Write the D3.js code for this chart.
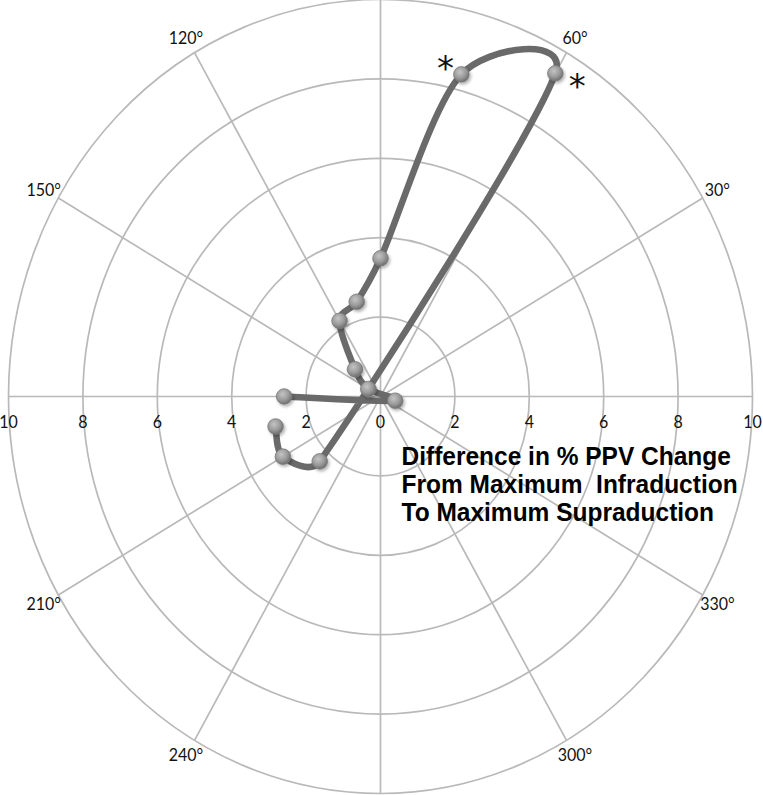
<!DOCTYPE html>
<html>
<head>
<meta charset="utf-8">
<script src="https://cdn.jsdelivr.net/npm/d3@7"></script>
<style>
  html, body { margin: 0; padding: 0; background: #fff; }
  svg { display: block; }
</style>
</head>
<body>
<svg id="chart" width="763" height="795"></svg>
<script>
// series, in the order the line is drawn (angle in degrees, radius value)
var angles = [195, 210, 225, 60, 75, 90, 105, 120, 135, 150, 165, 180];
var values = [2.92, 3.03, 2.31, 9.4, 8.4, 3.48, 2.47, 2.2, 0.97, 0.38, -0.41, 2.59];
// points flagged with an asterisk
var starred = [60, 75];
// grid
var ringValues = [2, 4, 6, 8, 10];
var spokeAngles = [0, 30, 60, 90, 120, 150, 180, 210, 240, 270, 300, 330];
var angleLabels = ["30°", "60°", "120°", "150°", "210°", "240°", "300°", "330°"];
var titleLines = ["Difference in % PPV Change", "From Maximum  Infraduction", "To Maximum Supraduction"];

var svg = d3.select("#chart");
var cx = 380.5, cy = 396.5;
var stretch = 397 / 372;   // the picture is a bit taller than wide

var rx = d3.scaleLinear().domain([0, 10]).range([0, 372]);
var ry = d3.scaleLinear().domain([0, 10]).range([0, 397]);

function px(r, a) { return cx + rx(r) * Math.cos(a * Math.PI / 180); }
function py(r, a) { return cy - ry(r) * Math.sin(a * Math.PI / 180); }

var defs = svg.append("defs");
var grad = defs.append("radialGradient").attr("id", "ball")
    .attr("cx", "40%").attr("cy", "35%").attr("r", "65%");
grad.append("stop").attr("offset", "0%").attr("stop-color", "#c4c4c4");
grad.append("stop").attr("offset", "60%").attr("stop-color", "#9a9a9a");
grad.append("stop").attr("offset", "100%").attr("stop-color", "#6f6f6f");
var shadow = defs.append("filter").attr("id", "shadow")
    .attr("x", "-50%").attr("y", "-50%").attr("width", "200%").attr("height", "200%");
shadow.append("feDropShadow").attr("dx", 1.5).attr("dy", 2).attr("stdDeviation", 1.5)
    .attr("flood-color", "#000").attr("flood-opacity", 0.3);

// grid rings and spokes
var grid = svg.append("g").attr("class", "grid")
    .attr("fill", "none").attr("stroke", "#b9b9b9").attr("stroke-width", 1.7);

grid.selectAll("ellipse").data(ringValues).enter().append("ellipse")
    .attr("cx", cx).attr("cy", cy)
    .attr("rx", function (d) { return rx(d); })
    .attr("ry", function (d) { return ry(d); });

grid.selectAll("line").data(spokeAngles).enter().append("line")
    .attr("x1", cx).attr("y1", cy)
    .attr("x2", function (d) { return px(10, d); })
    .attr("y2", function (d) { return py(10, d); });

// angle labels just outside the outer ring
svg.append("g").selectAll("text")
    .data(angleLabels).enter().append("text")
    .attr("transform", function (d) {
        var a = parseFloat(d) * Math.PI / 180;
        var x = px(10, parseFloat(d)) + 17 * Math.cos(a);
        var y = py(10, parseFloat(d)) - 17 * Math.sin(a);
        return "translate(" + x + "," + y + ") scale(1," + stretch + ")";
    })
    .attr("text-anchor", "middle").attr("dy", "0.36em")
    .style("font-family", "Lato, 'Open Sans', sans-serif").style("font-size", "16px")
    .style("fill", "#111")
    .text(function (d) { return d; });

// radial value labels along the horizontal axis, both sides
var ticks = rx.ticks(5);
var tickData = [];
ticks.forEach(function (t) {
    tickData.push({ v: t, x: cx - rx(t) });
    if (t > 0) tickData.push({ v: t, x: cx + rx(t) });
});
svg.append("g").selectAll("text")
    .data(tickData).enter().append("text")
    .attr("transform", function (d) { return "translate(" + d.x + "," + (cy + 25) + ") scale(1," + stretch + ")"; })
    .attr("text-anchor", "middle").attr("dy", "0.36em")
    .style("font-family", "Lato, 'Open Sans', sans-serif").style("font-size", "16px")
    .style("fill", "#111")
    .text(function (d) { return d.v; });

// the series
var pts = angles.map(function (a, i) { return { a: a, r: values[i], x: px(values[i], a), y: py(values[i], a) }; });

// spreadsheet-style smoothing: bezier handles at 1/6 of the neighbour span,
// kept under ~0.4 of the segment so short hops don't overshoot
function smoothPath(p) {
    var path = d3.path();
    path.moveTo(p[0].x, p[0].y);
    function handle(a, b, seg) {
        var dx = (b.x - a.x) / 6, dy = (b.y - a.y) / 6;
        var len = Math.sqrt(dx * dx + dy * dy), lim = seg * 0.42;
        if (len > lim) { dx *= lim / len; dy *= lim / len; }
        return [dx, dy];
    }
    for (var i = 0; i < p.length - 1; i++) {
        var p0 = p[i - 1] || p[i], p1 = p[i], p2 = p[i + 1], p3 = p[i + 2] || p[i + 1];
        var seg = Math.sqrt((p2.x - p1.x) * (p2.x - p1.x) + (p2.y - p1.y) * (p2.y - p1.y));
        var t1 = handle(p0, p2, seg), t2 = handle(p1, p3, seg);
        path.bezierCurveTo(p1.x + t1[0], p1.y + t1[1], p2.x - t2[0], p2.y - t2[1], p2.x, p2.y);
    }
    return path.toString();
}

svg.append("path")
    .datum(pts)
    .attr("d", smoothPath)
    .attr("fill", "none")
    .attr("stroke", "#6a6a6a")
    .attr("stroke-width", 6.5)
    .attr("stroke-linejoin", "round")
    .attr("stroke-linecap", "round");

svg.append("g").selectAll("circle")
    .data(pts).enter().append("circle")
    .attr("cx", function (d) { return d.x; })
    .attr("cy", function (d) { return d.y; })
    .attr("r", 7.8)
    .attr("fill", "url(#ball)")
    .attr("stroke", "#7a7a7a")
    .attr("stroke-width", 0.8)
    .attr("filter", "url(#shadow)");

// asterisks next to the flagged points
var starOffset = { 75: [-16, -14], 60: [22, 5] };
svg.append("g").selectAll("text")
    .data(pts.filter(function (d) { return starred.indexOf(d.a) !== -1; }))
    .enter().append("text")
    .attr("x", function (d) { return d.x + starOffset[d.a][0]; })
    .attr("y", function (d) { return d.y + starOffset[d.a][1] + 20; })
    .attr("text-anchor", "middle")
    .style("font-family", "'DejaVu Sans', sans-serif").style("font-size", "34px")
    .style("fill", "#111")
    .text("*");

// title block
svg.append("g").selectAll("text")
    .data(titleLines).enter().append("text")
    .attr("transform", function (d, i) { return "translate(401.5," + (465 + i * 27.8) + ") scale(1," + stretch + ")"; })
    .style("font-family", "'Liberation Sans', Arial, sans-serif").style("font-size", "24.5px")
    .style("font-weight", "bold").style("fill", "#000")
    .style("white-space", "pre")
    .text(function (d) { return d; });
</script>
</body>
</html>
